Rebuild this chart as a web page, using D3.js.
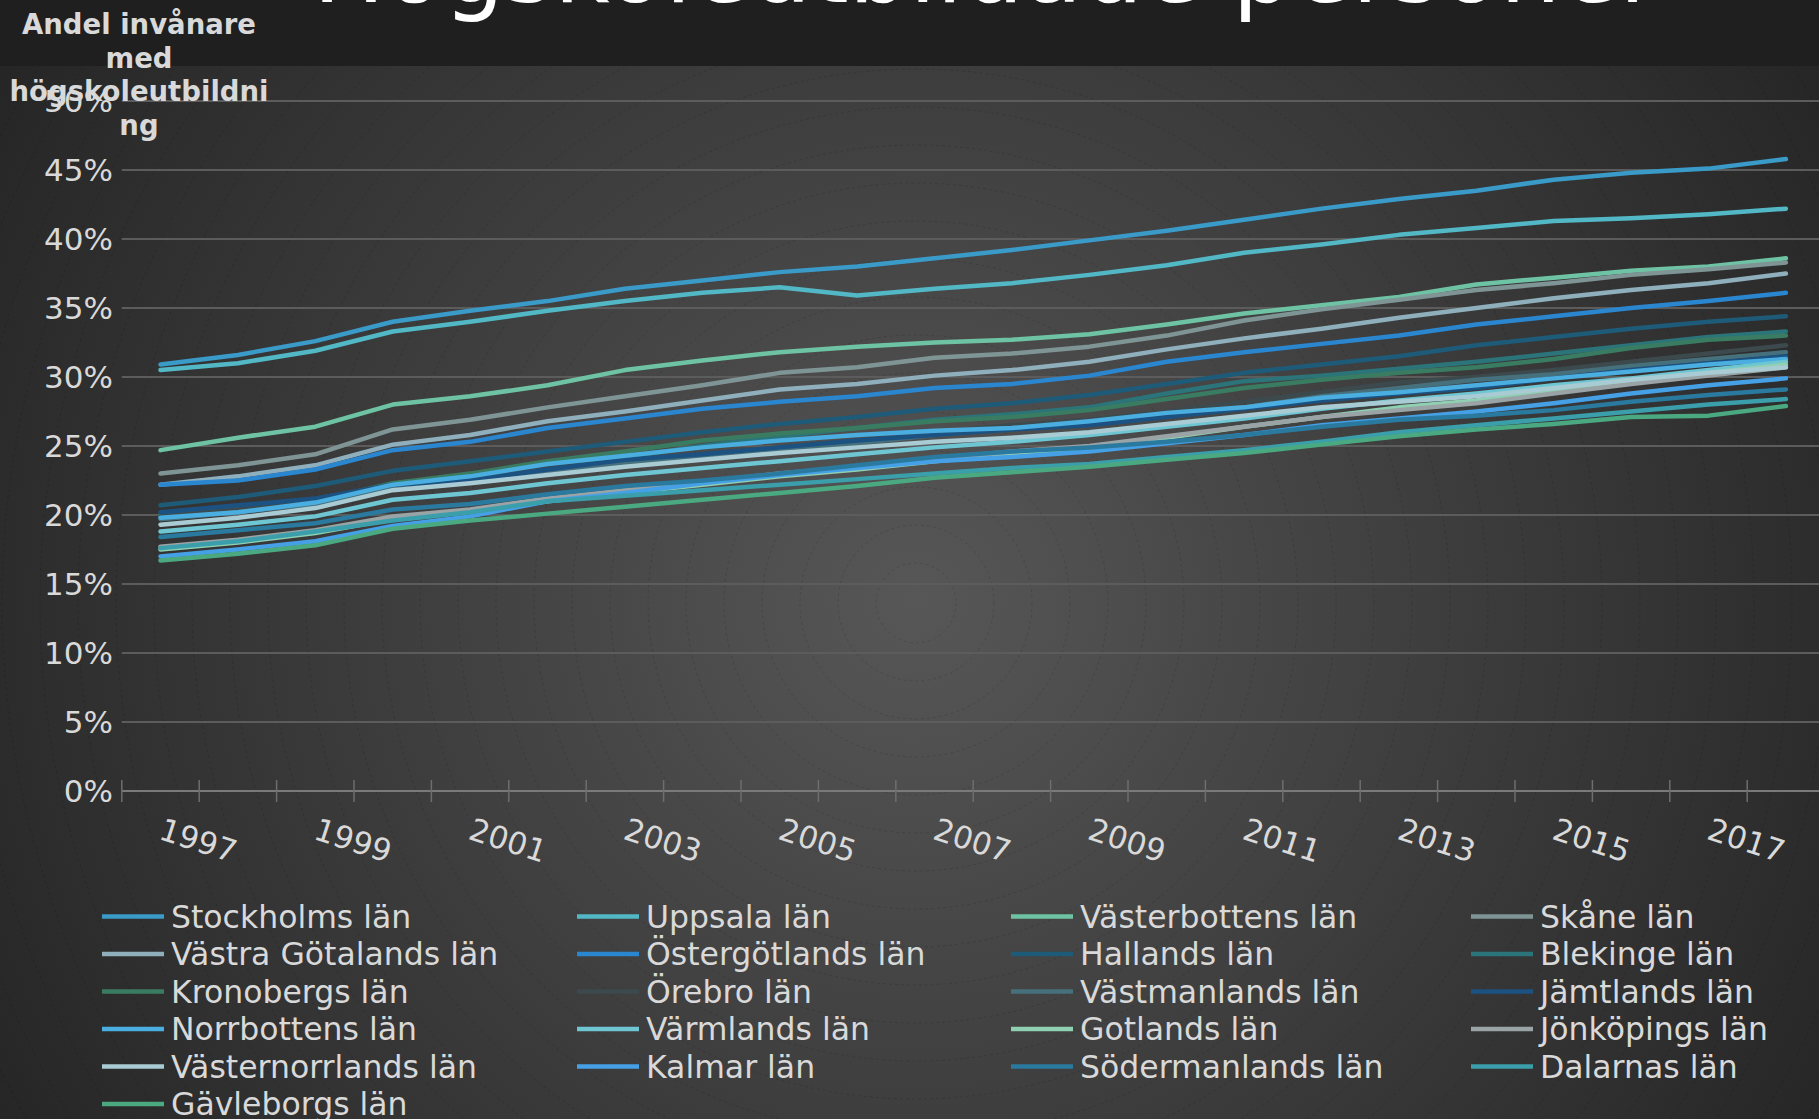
<!DOCTYPE html>
<html>
<head>
<meta charset="utf-8">
<script src="https://cdn.jsdelivr.net/npm/d3@7"></script>
<style>
body{margin:0;background:#2c2c2c;overflow:hidden}
text{font-family:"DejaVu Sans",Verdana,sans-serif}
</style>
</head>
<body>
<div id="chart"></div>
<script>

var years = d3.range(1997, 2019)
var yearLabels = [1997,1999,2001,2003,2005,2007,2009,2011,2013,2015,2017]
var yTicks = [0,0.05,0.10,0.15,0.20,0.25,0.30,0.35,0.40,0.45,0.50]

var stockholm      = [30.9,31.6,32.6,34.0,34.8,35.5,36.4,37.0,37.6,38.0,38.6,39.2,39.9,40.6,41.4,42.2,42.9,43.5,44.3,44.8,45.1,45.8]
var uppsala        = [30.5,31.0,31.9,33.3,34.0,34.8,35.5,36.1,36.5,35.9,36.4,36.8,37.4,38.1,39.0,39.6,40.3,40.8,41.3,41.5,41.8,42.2]
var vasterbotten   = [24.7,25.6,26.4,28.0,28.6,29.4,30.5,31.2,31.8,32.2,32.5,32.7,33.1,33.8,34.6,35.2,35.8,36.7,37.2,37.7,38.0,38.6]
var skane          = [23.0,23.6,24.4,26.2,26.9,27.8,28.6,29.4,30.3,30.7,31.4,31.7,32.2,33.0,34.1,34.9,35.6,36.3,36.8,37.4,37.8,38.3]
var vastraGotaland = [22.2,22.8,23.6,25.1,25.8,26.8,27.5,28.3,29.1,29.5,30.1,30.5,31.1,32.0,32.8,33.5,34.3,35.0,35.7,36.3,36.8,37.5]
var ostergotland   = [22.2,22.5,23.3,24.7,25.3,26.3,27.0,27.7,28.2,28.6,29.2,29.5,30.1,31.1,31.8,32.4,33.0,33.8,34.4,35.0,35.5,36.1]
var halland        = [20.7,21.3,22.1,23.2,23.9,24.6,25.3,26.0,26.6,27.1,27.7,28.1,28.7,29.5,30.3,30.9,31.5,32.3,32.9,33.5,34.0,34.4]
var blekinge       = [19.9,20.3,20.9,22.0,22.6,23.5,24.2,25.0,25.7,26.3,26.9,27.3,27.8,28.8,29.7,30.1,30.6,31.1,31.7,32.3,32.9,33.3]
var kronoberg      = [20.0,20.5,21.0,22.3,23.0,23.9,24.6,25.4,25.9,26.3,26.8,27.1,27.6,28.4,29.2,29.8,30.3,30.7,31.3,32.1,32.7,33.0]
var orebro         = [19.9,20.4,21.0,22.2,22.7,23.4,23.9,24.4,24.9,25.4,26.0,26.5,26.9,27.5,28.2,28.9,29.6,30.0,30.5,31.1,31.7,32.3]
var vastmanland    = [19.7,20.2,20.8,22.0,22.5,23.2,23.7,24.2,24.7,25.2,25.8,26.3,26.6,27.2,27.8,28.6,29.2,29.8,30.2,30.8,31.3,31.8]
var jamtland       = [20.2,20.7,21.2,22.2,22.5,23.3,24.0,24.4,24.9,25.4,25.8,26.2,26.5,27.1,27.7,28.3,28.8,29.2,29.9,30.5,31.0,31.5]
var norrbotten     = [19.8,20.2,20.9,22.2,22.8,23.7,24.3,24.9,25.4,25.8,26.1,26.3,26.8,27.4,27.8,28.5,28.9,29.4,29.9,30.4,30.9,31.3]
var varmland       = [18.8,19.3,19.9,21.1,21.6,22.3,22.9,23.4,23.9,24.4,24.9,25.3,25.8,26.4,27.0,27.7,28.3,28.8,29.4,29.9,30.5,31.1]
var gotland        = [17.5,18.0,18.7,19.7,20.3,21.0,21.6,22.2,22.8,23.3,23.9,24.4,24.9,25.6,26.4,27.1,27.8,28.3,29.0,29.6,30.3,30.9]
var jonkoping      = [17.7,18.2,18.9,19.9,20.4,21.2,21.8,22.4,23.0,23.5,24.1,24.6,25.0,25.7,26.4,27.1,27.6,28.1,28.8,29.5,30.1,30.7]
var vasternorrland = [19.3,19.8,20.5,21.8,22.3,22.9,23.5,24.0,24.5,24.9,25.3,25.6,26.0,26.6,27.2,27.8,28.2,28.6,29.2,29.8,30.3,30.7]
var kalmar         = [17.0,17.5,18.1,19.2,19.9,21.0,21.6,22.3,22.9,23.4,23.9,24.2,24.6,25.2,25.8,26.5,27.0,27.5,28.1,28.8,29.4,29.9]
var sodermanland   = [18.4,18.9,19.4,20.4,20.8,21.5,22.1,22.5,23.0,23.6,24.2,24.6,24.9,25.3,25.8,26.4,26.9,27.2,27.6,28.2,28.7,29.1]
var dalarna        = [17.6,18.1,18.8,19.6,20.2,21.0,21.4,21.8,22.2,22.6,23.0,23.4,23.7,24.2,24.7,25.3,26.0,26.5,27.0,27.5,28.0,28.4]
var gavleborg      = [16.7,17.2,17.8,19.0,19.6,20.1,20.6,21.1,21.6,22.1,22.7,23.1,23.5,24.0,24.5,25.1,25.7,26.2,26.6,27.1,27.2,27.9]

var seriesNames = ["Stockholms län","Uppsala län","Västerbottens län","Skåne län",
	"Västra Götalands län","Östergötlands län","Hallands län","Blekinge län",
	"Kronobergs län","Örebro län","Västmanlands län","Jämtlands län",
	"Norrbottens län","Värmlands län","Gotlands län","Jönköpings län",
	"Västernorrlands län","Kalmar län","Södermanlands län","Dalarnas län","Gävleborgs län"]
var seriesValues = [stockholm,uppsala,vasterbotten,skane,vastraGotaland,ostergotland,halland,blekinge,
	kronoberg,orebro,vastmanland,jamtland,norrbotten,varmland,gotland,jonkoping,
	vasternorrland,kalmar,sodermanland,dalarna,gavleborg]
var seriesColors = ["#3a9ac8","#52b8c6","#6ec3a5","#7f9595","#8eafbb","#2a86cf","#1e5b78","#2b7479",
	"#3a7c62","#3c4a4e","#46707c","#1c5282","#4aaee0","#6fc6d3","#8fd0b2","#9aa3a5",
	"#a9cbd3","#45a0e6","#2a799e","#3b9eab","#4aa981"]

var width = 1819, height = 1119

var svg = d3.select("#chart").append("svg").attr("width",width).attr("height",height)

// background
var defs = svg.append("defs")
var grad = defs.append("radialGradient").attr("id","bg")
	.attr("gradientUnits","userSpaceOnUse").attr("cx",916).attr("cy",600).attr("r",1050)
grad.append("stop").attr("offset","0%").attr("stop-color","#575757")
grad.append("stop").attr("offset","55%").attr("stop-color","#3b3b3b")
grad.append("stop").attr("offset","100%").attr("stop-color","#262626")
svg.append("rect").attr("width",width).attr("height",height).attr("fill","url(#bg)")

// faint rings around the centre, like the slide texture
svg.append("g").selectAll("circle")
	.data(d3.range(40, 1200, 38))
	.enter().append("circle")
	.attr("cx",916).attr("cy",603).attr("r",function(d){return d})
	.attr("fill","none").attr("stroke","#000").attr("stroke-opacity",0.12)
	.attr("stroke-dasharray","3,3")

svg.append("rect").attr("width",width).attr("height",66).attr("fill","#1f1f1f")

// title (cut off at top like the reference)
svg.append("text").attr("x",986).attr("y",2)
	.attr("text-anchor","middle")
	.attr("font-size",96)
	.attr("fill","#ffffff")
	.attr("textLength",1346).attr("lengthAdjust","spacingAndGlyphs")
	.text("Högskoleutbildade personer")

var x = d3.scalePoint().domain(years).range([121.8,1824.6]).padding(0.5)
var y = d3.scaleLinear().domain([0,0.5]).range([791,101])

// gridlines
svg.append("g").selectAll("line")
	.data(yTicks.slice(1))
	.enter().append("line")
	.attr("x1",121.8).attr("x2",width)
	.attr("y1",function(d){return y(d)}).attr("y2",function(d){return y(d)})
	.attr("stroke","#5c5c5c").attr("stroke-width",2)

// x axis
var step = x.step()
svg.append("line").attr("x1",121.8).attr("x2",width).attr("y1",y(0)).attr("y2",y(0))
	.attr("stroke","#7a7a7a").attr("stroke-width",2)
svg.append("g").selectAll("line")
	.data(years.concat([2019]))
	.enter().append("line")
	.attr("x1",function(d){return x(1997)-step/2+(d-1997)*step})
	.attr("x2",function(d){return x(1997)-step/2+(d-1997)*step})
	.attr("y1",y(0)-11).attr("y2",y(0)+11)
	.attr("stroke","#6e6e6e").attr("stroke-width",1.5)

svg.append("g").selectAll("text")
	.data(yearLabels)
	.enter().append("text")
	.attr("transform",function(d){return "translate("+(x(d)+4)+",817) rotate(18)"})
	.attr("dy","0.73em")
	.attr("font-size",31).attr("fill","#d9d9d9")
	.text(function(d){return d})

// y axis labels
svg.append("g").selectAll("text")
	.data(yTicks)
	.enter().append("text")
	.attr("x",113).attr("y",function(d){return y(d)})
	.attr("dy","0.36em").attr("text-anchor","end")
	.attr("font-size",31).attr("fill","#d9d9d9")
	.text(d3.format(".0%"))

// lines
var line = d3.line()
	.x(function(d,i){return x(years[i])})
	.y(function(d){return y(d/100)})

svg.append("g").selectAll("path")
	.data(seriesValues)
	.enter().append("path")
	.attr("d",function(d){return line(d)})
	.attr("fill","none")
	.attr("stroke",function(d,i){return seriesColors[i]})
	.attr("stroke-width",4.5)
	.attr("stroke-linejoin","round").attr("stroke-linecap","round")

// axis title
var titleLines = ["Andel invånare","med","högskoleutbildni","ng"]
svg.append("g").selectAll("text")
	.data(titleLines)
	.enter().append("text")
	.attr("x",139).attr("y",function(d,i){return 24+i*33.7})
	.attr("dy","0.36em").attr("text-anchor","middle")
	.attr("font-size",27.5).attr("font-weight","bold").attr("fill","#d9d9d9")
	.text(function(d){return d})

// legend
var colX = [102,577,1011,1471]
var legend = svg.append("g").selectAll("g")
	.data(seriesNames)
	.enter().append("g")
	.attr("transform",function(d,i){return "translate("+colX[i%4]+","+(916.5+Math.floor(i/4)*37.5)+")"})
legend.append("line")
	.attr("x1",0).attr("x2",62).attr("y1",0).attr("y2",0)
	.attr("stroke",function(d,i){return seriesColors[i]}).attr("stroke-width",4.5)
legend.append("text")
	.attr("x",69).attr("dy","0.36em")
	.attr("font-size",31.5).attr("fill","#d9d9d9")
	.text(function(d){return d})

</script>
</body>
</html>
